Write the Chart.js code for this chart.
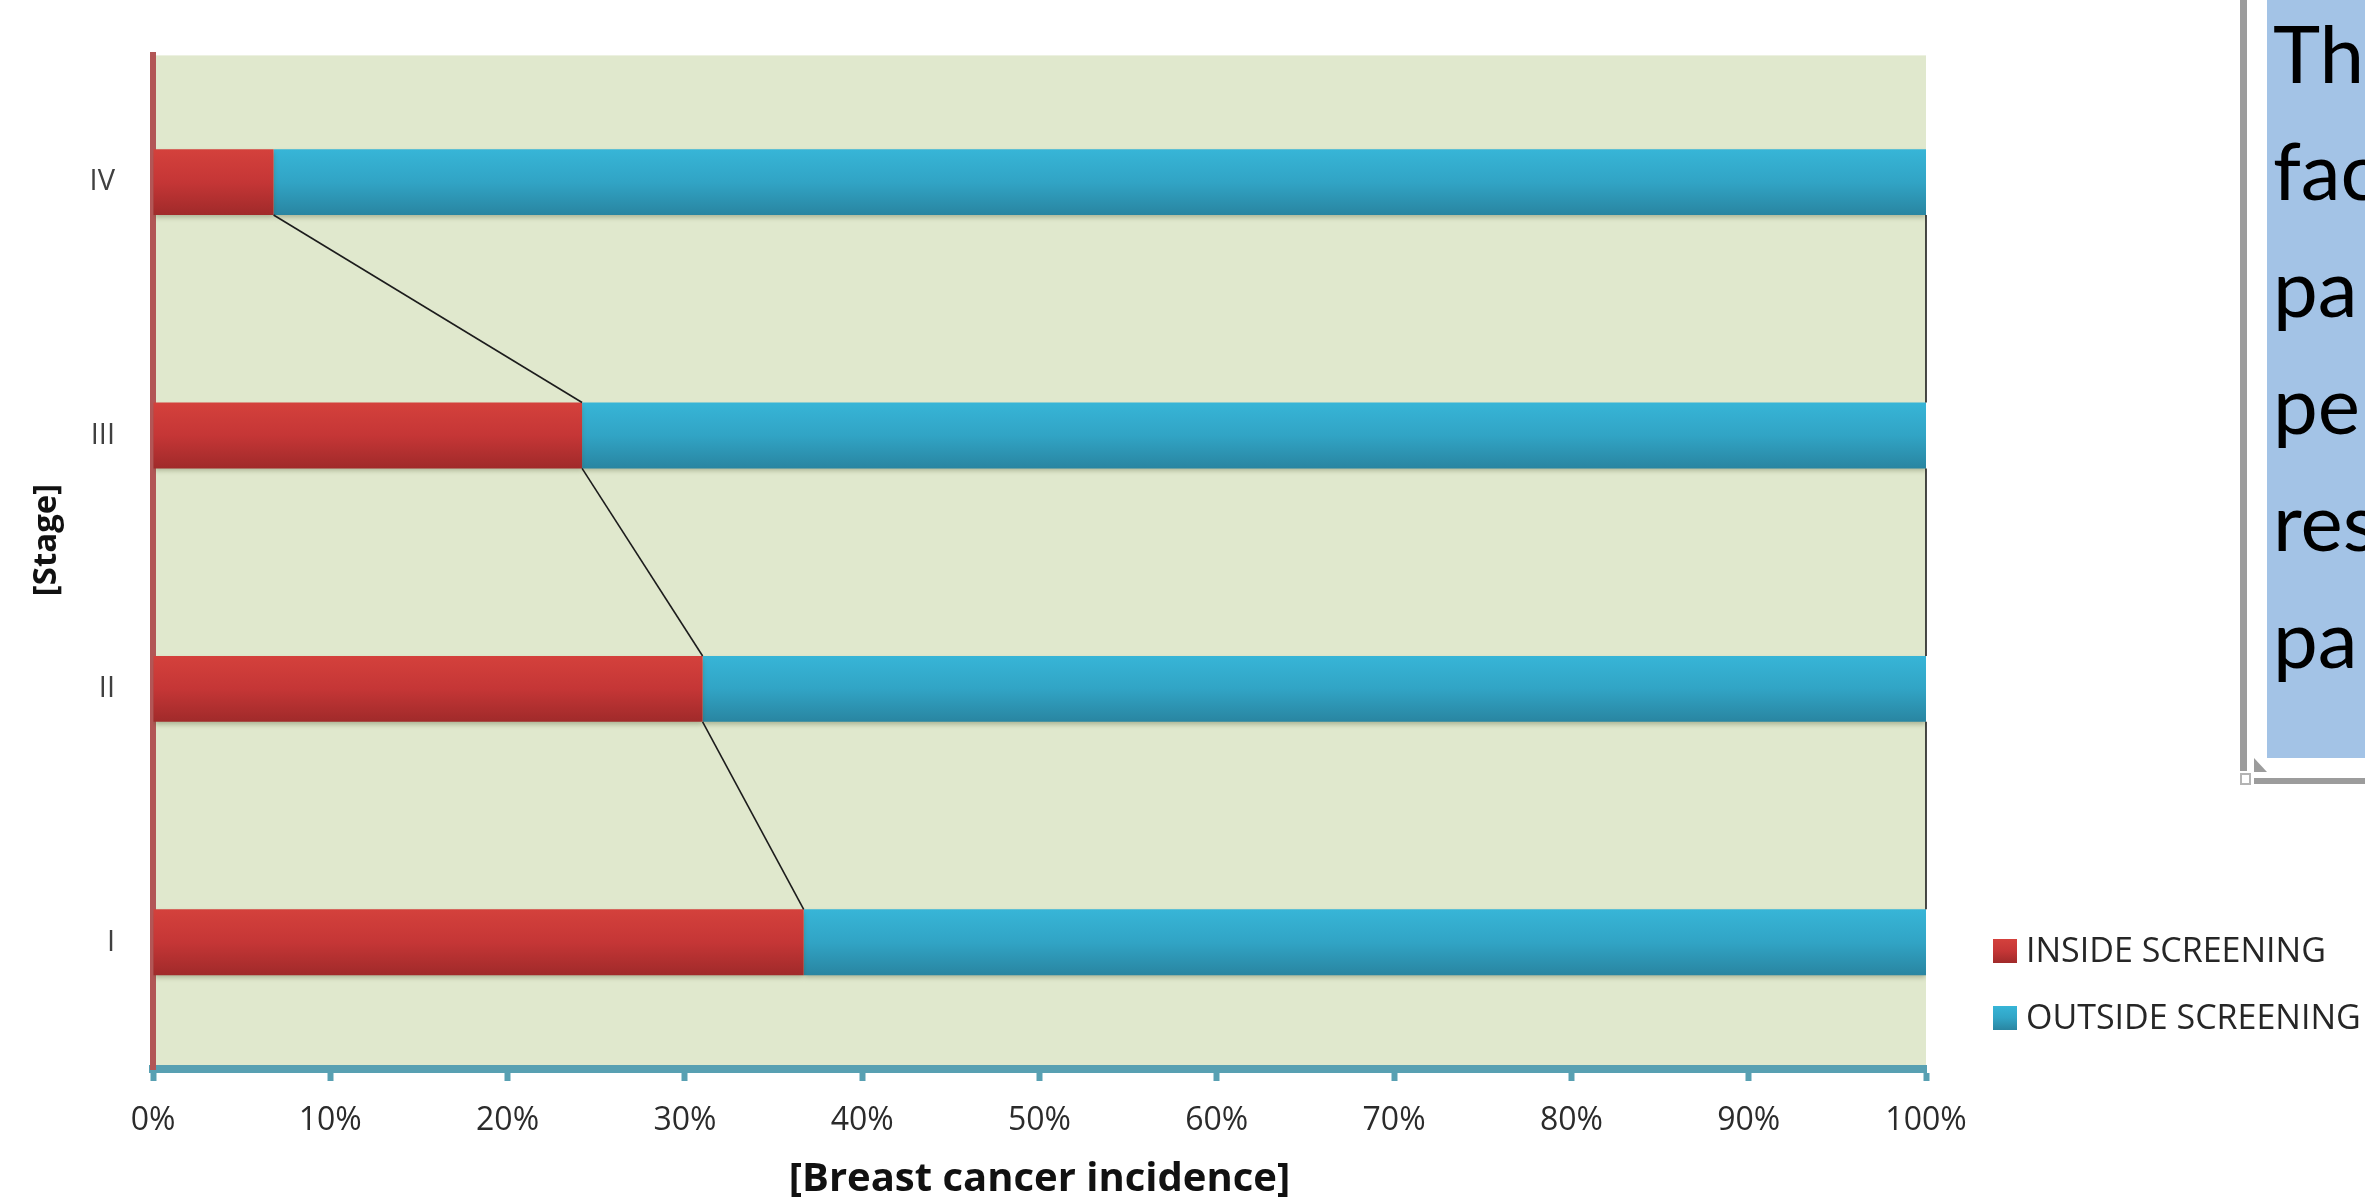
<!DOCTYPE html>
<html>
<head>
<meta charset="utf-8">
<script src="https://cdn.jsdelivr.net/npm/chart.js@4.4.1/dist/chart.umd.min.js"></script>
<style>
  html, body { margin: 0; padding: 0; background: #ffffff; overflow: hidden; }
  #wrap { position: relative; width: 2365px; height: 1197px; overflow: hidden; background: #ffffff; }
  #chart { position: absolute; left: 0; top: 0; }
  .note-edge { position: absolute; background: #9c9c9c; }
  .note-fill { position: absolute; left: 2267px; top: 0; width: 140px; height: 758px; background: #a3c3e6; }
  .note-line { position: absolute; left: 2273px; font-family: Lato, "Open Sans", sans-serif; font-size: 80px;
               line-height: 80px; color: #000; white-space: nowrap; }
  .note-tri { position: absolute; left: 2254px; top: 758px; width: 13px; height: 14px; background: #9c9c9c;
              clip-path: polygon(0 0, 0 100%, 100% 100%); }
  .note-handle { position: absolute; left: 2240px; top: 773px; width: 7px; height: 8px;
                 border: 2px solid #b4b4b4; background: #ffffff; }
</style>
</head>
<body>
<div id="wrap">
  <canvas id="chart" width="2365" height="1197"></canvas>

  <!-- side text box -->
  <div class="note-edge" style="left:2240px;top:0;width:7px;height:771px;"></div>
  <div class="note-fill"></div>
  <div class="note-tri"></div>
  <div class="note-edge" style="left:2254px;top:778px;width:140px;height:6px;"></div>
  <div class="note-handle"></div>
  <div class="note-line" style="top:12px;">Th</div>
  <div class="note-line" style="top:129px;">fac</div>
  <div class="note-line" style="top:246px;">pa</div>
  <div class="note-line" style="top:363px;">pe</div>
  <div class="note-line" style="top:480px;">res</div>
  <div class="note-line" style="top:597px;">pa</div>
</div>

<script>
// Stages from top to bottom, and the share of cases found inside / outside screening (%)
const categories = ['IV', 'III', 'II', 'I'];
const insideScreening = [6.8, 24.2, 31.0, 36.7];
const outsideScreening = [93.2, 75.8, 69.0, 63.3];
const seriesNames = ['INSIDE SCREENING', 'OUTSIDE SCREENING'];
const xAxisTitle = '[Breast cancer incidence]';
const yAxisTitle = '[Stage]';

const RED_SHADE = [[0, '#d4413c'], [0.5, '#c53636'], [1, '#a02a2a']];
const BLUE_SHADE = [[0, '#37b5d7'], [0.5, '#31a4c5'], [1, '#2985a1']];

function shadeGradient(ctx, top, bottom, stops) {
  const g = ctx.createLinearGradient(0, top, 0, bottom);
  stops.forEach(([o, c]) => g.addColorStop(o, c));
  return g;
}

// pale green plot background
const plotBackground = {
  id: 'plotBackground',
  beforeDraw(chart) {
    const { ctx, chartArea: a } = chart;
    ctx.save();
    ctx.fillStyle = '#e0e8cd';
    ctx.fillRect(a.left, a.top, a.right - a.left, a.bottom - a.top);
    ctx.restore();
  }
};

// vertical shading + soft drop shadow on bars, then the series connector lines
const barStyling = {
  id: 'barStyling',
  beforeDatasetsDraw(chart) {
    const ctx = chart.ctx;
    chart.data.datasets.forEach((ds, i) => {
      const stops = i === 0 ? RED_SHADE : BLUE_SHADE;
      chart.getDatasetMeta(i).data.forEach(el => {
        el.options.backgroundColor = shadeGradient(ctx, el.y - el.height / 2, el.y + el.height / 2, stops);
      });
    });
    ctx.save();
    ctx.shadowColor = 'rgba(70, 80, 40, 0.35)';
    ctx.shadowBlur = 5;
    ctx.shadowOffsetY = 3;
  },
  afterDatasetsDraw(chart) {
    const ctx = chart.ctx;
    ctx.restore();
    ctx.save();
    ctx.strokeStyle = '#1c1c1c';
    ctx.lineWidth = 1.6;
    for (let d = 0; d < chart.data.datasets.length; d++) {
      const bars = chart.getDatasetMeta(d).data;
      for (let i = 0; i < bars.length - 1; i++) {
        const a = bars[i], b = bars[i + 1];
        ctx.beginPath();
        ctx.moveTo(a.x, a.y + a.height / 2);
        ctx.lineTo(b.x, b.y - b.height / 2);
        ctx.stroke();
      }
    }
    ctx.restore();
  }
};

// rotated stage title and the legend to the lower right of the plot
const sideTexts = {
  id: 'sideTexts',
  afterDraw(chart) {
    const ctx = chart.ctx;
    ctx.save();
    ctx.translate(47, 540);
    ctx.rotate(-Math.PI / 2);
    ctx.font = 'bold 33px "Open Sans"';
    ctx.textAlign = 'center';
    ctx.textBaseline = 'middle';
    ctx.fillStyle = '#111111';
    ctx.fillText(yAxisTitle, 0, 0);
    ctx.restore();

    const x0 = 1993, y0 = 951, rowGap = 67, box = 24;
    ctx.save();
    ctx.font = '34px "Open Sans"';
    ctx.textBaseline = 'middle';
    chart.data.datasets.forEach((ds, i) => {
      const cy = y0 + i * rowGap;
      const stops = i === 0 ? RED_SHADE : BLUE_SHADE;
      ctx.fillStyle = shadeGradient(ctx, cy - box / 2, cy + box / 2, stops);
      ctx.fillRect(x0, cy - box / 2, box, box);
      ctx.fillStyle = '#262626';
      ctx.fillText(ds.label, x0 + 33, cy + 1);
    });
    ctx.restore();
  }
};

new Chart(document.getElementById('chart'), {
  type: 'bar',
  data: {
    labels: categories,
    datasets: [
      { label: seriesNames[0], data: insideScreening, backgroundColor: () => '#c53636', borderWidth: 0 },
      { label: seriesNames[1], data: outsideScreening, backgroundColor: () => '#31a4c5', borderWidth: 0 }
    ]
  },
  options: {
    indexAxis: 'y',
    responsive: false,
    animation: false,
    barPercentage: 0.26,
    categoryPercentage: 1,
    layout: { padding: { left: 0, top: 52, right: 439, bottom: 0 } },
    plugins: { legend: { display: false }, tooltip: { enabled: false } },
    scales: {
      x: {
        stacked: true,
        min: 0,
        max: 100,
        position: 'bottom',
        afterFit(s) { s.height = 128; },
        ticks: {
          stepSize: 10,
          autoSkip: false,
          maxRotation: 0,
          padding: 21,
          color: '#2b2b2b',
          font: { family: 'Open Sans', size: 32 },
          callback: v => v + '%'
        },
        grid: { display: true, drawOnChartArea: false, drawTicks: true, tickLength: 12, tickWidth: 6, tickColor: '#58a0b2' },
        border: { display: true, color: '#58a0b2', width: 8 },
        title: {
          display: true,
          text: xAxisTitle,
          color: '#111111',
          font: { family: 'Open Sans', size: 40, weight: 'bold', lineHeight: 1 },
          padding: { top: 0, bottom: -3 }
        }
      },
      y: {
        stacked: true,
        afterFit(s) { s.width = 153; },
        ticks: { color: '#404040', font: { family: 'Open Sans', size: 29 }, padding: 38 },
        grid: { display: false, drawTicks: false },
        border: { display: true, color: '#b25656', width: 6 },
        title: { display: false }
      }
    }
  },
  plugins: [plotBackground, barStyling, sideTexts]
});
</script>
</body>
</html>
